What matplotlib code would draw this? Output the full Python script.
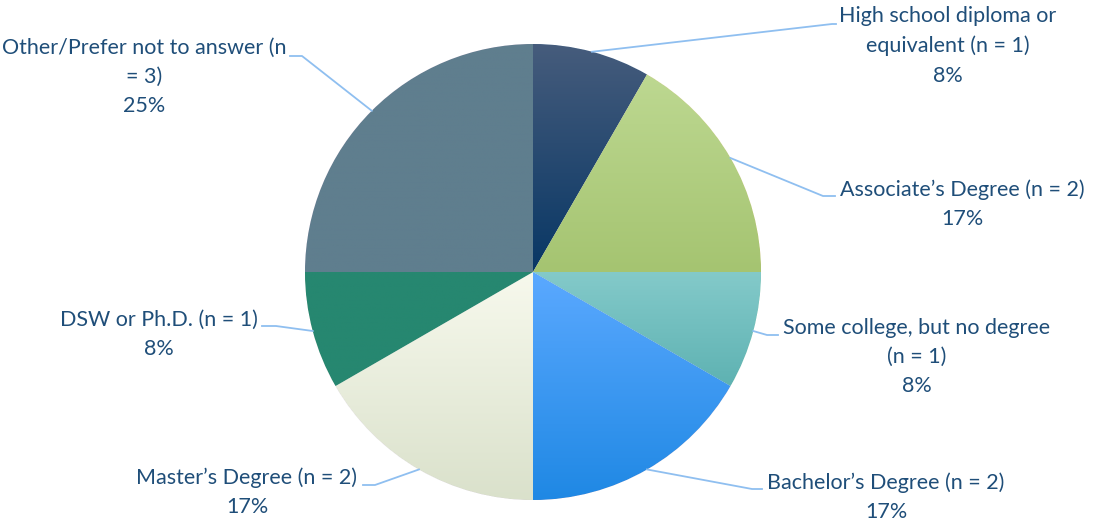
import matplotlib.pyplot as plt
import numpy as np
from matplotlib.colors import LinearSegmentedColormap

plt.rcParams['font.family'] = ['Lato', 'DejaVu Sans']

# data
labels = ['High school diploma or\nequivalent (n = 1)',
          'Associate\u2019s Degree (n = 2)',
          'Some college, but no degree\n(n = 1)',
          'Bachelor\u2019s Degree (n = 2)',
          'Master\u2019s Degree (n = 2)',
          'DSW or Ph.D. (n = 1)',
          'Other/Prefer not to answer (n\n= 3)']
counts = [1, 2, 1, 2, 2, 1, 3]
pcts = ['8%', '17%', '8%', '17%', '17%', '8%', '25%']

# gradient colours (top, bottom) per slice
grads = [('#465c7c', '#083765'),
         ('#bdd891', '#a5c471'),
         ('#84caca', '#5eb2b2'),
         ('#5ba9ff', '#1f88e4'),
         ('#f7f9ed', '#dae1cb'),
         ('#268770', '#268770'),
         ('#5f7e8e', '#5f7e8e')]

W, H = 1093, 525
fig = plt.figure(figsize=(W / 100, H / 100), dpi=100)
ax = fig.add_axes([0, 0, 1, 1])

cx, cy, R = 533, 525 - 272, 228
wedges, _ = ax.pie(counts, startangle=90, counterclock=False,
                   center=(cx, cy), radius=R, frame=True,
                   wedgeprops=dict(linewidth=0.6, edgecolor='white'))
ax.set_xlim(0, W)
ax.set_ylim(0, H)
ax.set_aspect('equal')
ax.axis('off')

for w, (top, bot) in zip(wedges, grads):
    v = w.get_path().vertices
    x0, x1 = v[:, 0].min(), v[:, 0].max()
    y0, y1 = v[:, 1].min(), v[:, 1].max()
    cmap = LinearSegmentedColormap.from_list('g', [bot, top])
    grad = np.linspace(0, 1, 256).reshape(-1, 1)
    im = ax.imshow(grad, cmap=cmap, origin='lower', aspect='auto',
                   extent=(x0, x1, y0, y1), zorder=w.get_zorder() + 0.1)
    im.set_clip_path(w)

# leader lines: (elbow x, elbow y, end x) in pixel coords; text centre
layout = [((832, 24, 836), (948, 46)),
          ((823, 196, 835), (962, 204)),
          ((767, 335, 778), (917, 357)),
          ((752, 489, 762), (886, 497)),
          ((375, 485, 363), (247, 492)),
          ((276, 326, 262), (159, 334)),
          ((302, 56, 290), (144, 77))]

total = sum(counts)
ang = 90.0
lc = '#8fbff0'
tc = '#1f4e79'
for lab, n, p, ((ex, ey, endx), (tx, ty)) in zip(labels, counts, pcts, layout):
    mid = np.deg2rad(ang - 360 * n / total / 2)
    ang -= 360 * n / total
    sx, sy = cx + R * np.cos(mid), cy + R * np.sin(mid)
    ax.plot([sx, ex, endx], [sy, H - ey, H - ey], color=lc, lw=1.3, zorder=5)
    ax.text(tx, H - ty, lab + '\n' + p, ha='center', va='center',
            fontsize=15.5, color=tc, linespacing=1.58)

fig.savefig('out.png', dpi=100)
